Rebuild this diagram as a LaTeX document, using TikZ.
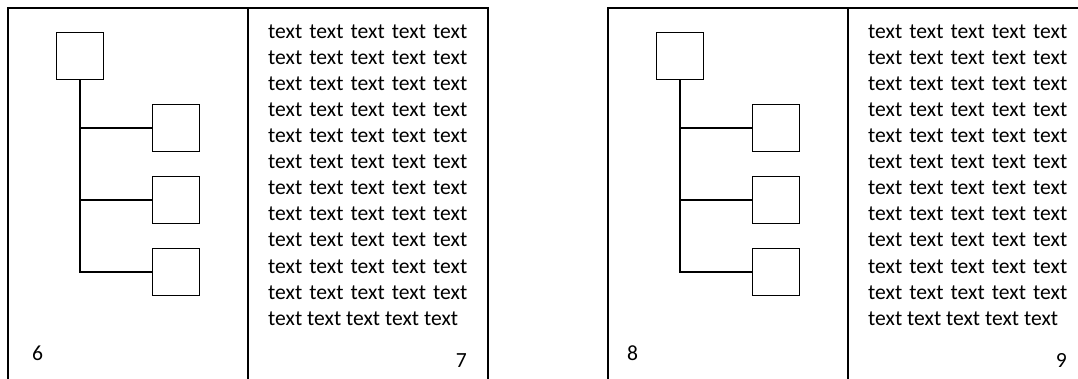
\documentclass[tikz,border=0pt]{standalone}
\usepackage{fontspec}
\setmainfont{Carlito}
\begin{document}
\begin{tikzpicture}[x=1pt,y=-1pt,
  frame/.style={line width=1.6pt},
  box/.style={draw,line width=1.5pt,minimum size=47pt,inner sep=0pt},
  link/.style={line width=1.4pt},
  textline/.style={anchor=base west,inner sep=0pt,font=\fontsize{21.6pt}{26pt}\selectfont},
  pagenum/.style={inner sep=0pt,font=\fontsize{21.6pt}{26pt}\selectfont}]
\useasboundingbox (0,0) rectangle (1078,379);
\foreach \s/\ox/\nl/\lx/\nr in {a/0/6/32/7, b/600/8/27/9}{
  \begin{scope}[xshift=\ox pt]
    % page frames of the spread
    \draw[frame] (8,385) -- (8,8) -- (488,8) -- (488,385);
    \draw[frame] (248,8) -- (248,385);
    % tree diagram on the left page
    \node[box] (\s-root) at (80,56) {};
    \node[box] (\s-c1) at (176,128) {};
    \node[box] (\s-c2) at (176,200) {};
    \node[box] (\s-c3) at (176,272) {};
    \draw[link] (\s-root.south) |- (\s-c1.west);
    \draw[link] (\s-root.south) |- (\s-c2.west);
    \draw[link] (\s-root.south) |- (\s-c3.west);
    % text block on the right page
    \foreach \i in {1,...,11}{
      \node[textline] (\s-l\i) at (268,{39+26*(\i-1)}) {\makebox[199pt][s]{text text text text text}};
    }
    \node[textline] (\s-l12) at (268,325) {text text text text text};
    % page numbers
    \node[pagenum,anchor=base west] (\s-pl) at (\lx,360) {\nl};
    \node[pagenum,anchor=base east] (\s-pr) at (467,367) {\nr};
  \end{scope}
}
\end{tikzpicture}
\end{document}
